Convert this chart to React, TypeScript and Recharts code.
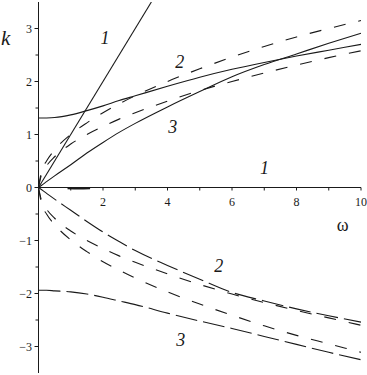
import React from 'react'
import { LineChart, Line, XAxis, YAxis, ReferenceLine, ReferenceDot } from 'recharts'

// frequency grid shared by the branch curves
const omega = [0, 0.1, 0.25, 0.5, 1, 1.5, 2, 2.5, 3, 4, 5, 6, 7, 8, 9, 10]

// upper half
const upSolid2 = [1.31, 1.31, 1.312, 1.32, 1.37, 1.45, 1.54, 1.64, 1.73, 1.91, 2.08, 2.23, 2.36, 2.48, 2.59, 2.7]
const upSolid3 = [0, 0.043, 0.11, 0.22, 0.43, 0.65, 0.85, 1.04, 1.21, 1.52, 1.81, 2.09, 2.32, 2.52, 2.72, 2.91]
const upDashHi = [0, 0.32, 0.5, 0.71, 1.0, 1.22, 1.41, 1.58, 1.73, 2.0, 2.24, 2.46, 2.66, 2.84, 3.0, 3.15]
const upDashLo = [0, 0.26, 0.41, 0.58, 0.82, 1.0, 1.15, 1.29, 1.41, 1.63, 1.83, 2.0, 2.16, 2.31, 2.45, 2.58]

// lower half
const loLong2 = [0, -0.043, -0.11, -0.22, -0.43, -0.64, -0.84, -1.02, -1.19, -1.47, -1.73, -1.98, -2.14, -2.29, -2.42, -2.54]
const loDashHi = [0, -0.26, -0.41, -0.58, -0.82, -1.0, -1.15, -1.29, -1.41, -1.63, -1.83, -2.01, -2.17, -2.32, -2.46, -2.6]
const loDashLo = [0, -0.32, -0.5, -0.7, -0.99, -1.21, -1.4, -1.56, -1.71, -1.97, -2.2, -2.41, -2.61, -2.79, -2.95, -3.11]
const loLong3 = [-1.94, -1.94, -1.94, -1.95, -1.97, -2.01, -2.07, -2.14, -2.21, -2.37, -2.52, -2.66, -2.81, -2.96, -3.11, -3.25]

// branch 1: straight line k = w, plus the short piece lying on the axis
const omega1 = [0, 3.5]
const k1 = [0, 3.5]
const omegaFlat = [0.9, 1.25, 1.6]
const kFlat = [-0.015, -0.02, -0.015]

const xTicks = [0, 1, 2, 3, 4, 5, 6, 7, 8, 9, 10]
const yTicks = [-3, -2.5, -2, -1.5, -1, -0.5, 0, 0.5, 1, 1.5, 2, 2.5, 3]

const curveLabels = [
  { w: 2.06, k: 2.83, text: '1' },
  { w: 4.38, k: 2.38, text: '2' },
  { w: 4.16, k: 1.15, text: '3' },
  { w: 7.01, k: 0.38, text: '1' },
  { w: 5.59, k: -1.47, text: '2' },
  { w: 4.41, k: -2.87, text: '3' },
]

const rows = omega.map((w, i) => ({
  w,
  s2: upSolid2[i],
  s3: upSolid3[i],
  dh: upDashHi[i],
  dl: upDashLo[i],
  l2: loLong2[i],
  ndh: loDashHi[i],
  ndl: loDashLo[i],
  l3: loLong3[i],
}))
const line1 = omega1.map((w, i) => ({ w, k: k1[i] }))
const flat = omegaFlat.map((w, i) => ({ w, k: kFlat[i] }))

const W = 367
const H = 375
const X_AXIS_H = 1
const MARGIN = { top: 2, right: 6, bottom: 1, left: 0 }
const Y_AXIS_W = 38.5
const ZERO_Y = MARGIN.top + (H - MARGIN.top - MARGIN.bottom - X_AXIS_H) / 2
const INK = '#1a1a1a'
const FONT = '"Liberation Serif", "Times New Roman", serif'
const SHORT = '12 13'
const LONG = '22 6'

function XTick({ x, payload }: any) {
  const v = payload.value
  return (
    <g>
      <line x1={x} x2={x} y1={ZERO_Y} y2={ZERO_Y + 3} stroke={INK} />
      {v > 0 && v % 2 === 0 && (
        <text x={x} y={ZERO_Y + 18} textAnchor="middle" fontSize={12} fontFamily={FONT} fill={INK}>
          {v}
        </text>
      )}
    </g>
  )
}

function YTick({ y, payload }: any) {
  const v = payload.value
  const major = Number.isInteger(v)
  return (
    <g>
      <line x1={Y_AXIS_W - (major ? 4 : 3)} x2={Y_AXIS_W} y1={y} y2={y} stroke={INK} />
      {major && (
        <text x={32} y={y} dy={4} textAnchor="end" fontSize={12} fontFamily={FONT} fill={INK}>
          {v < 0 ? '\u2212' + Math.abs(v) : v}
        </text>
      )}
    </g>
  )
}

export default function App() {
  const common = { dot: false, isAnimationActive: false, stroke: INK, strokeWidth: 1.1, type: 'monotone' as const }
  return (
    <div style={{ position: 'absolute', left: 0, top: 0, width: W, height: H, background: '#fff' }}>
      <LineChart width={W} height={H} data={rows} margin={MARGIN}>
        <XAxis
          dataKey="w"
          type="number"
          domain={[0, 10]}
          ticks={xTicks}
          height={X_AXIS_H}
          axisLine={false}
          tickLine={false}
          tick={<XTick />}
          interval={0}
        />
        <YAxis
          type="number"
          domain={[-3.5, 3.5]}
          ticks={yTicks}
          width={Y_AXIS_W}
          allowDataOverflow
          axisLine={{ stroke: INK }}
          tickLine={false}
          tick={<YTick />}
          interval={0}
        />
        <ReferenceLine y={0} stroke={INK} strokeWidth={1.1} />

        <Line {...common} dataKey="s2" />
        <Line {...common} dataKey="s3" />
        <Line {...common} dataKey="dh" strokeDasharray={SHORT} />
        <Line {...common} dataKey="dl" strokeDasharray={SHORT} />
        <Line {...common} dataKey="l2" strokeDasharray={LONG} />
        <Line {...common} dataKey="ndh" strokeDasharray={SHORT} />
        <Line {...common} dataKey="ndl" strokeDasharray={SHORT} />
        <Line {...common} dataKey="l3" strokeDasharray={LONG} />
        <Line {...common} data={line1} dataKey="k" type="linear" />
        <Line {...common} data={flat} dataKey="k" strokeWidth={1.8} />

        {curveLabels.map((c, i) => (
          <ReferenceDot
            key={i}
            x={c.w}
            y={c.k}
            r={0}
            fill="none"
            stroke="none"
            label={{ value: c.text, position: 'center', fontSize: 18, fontStyle: 'italic', fontFamily: FONT, fill: INK }}
          />
        ))}
        <ReferenceDot
          x={9.43}
          y={-0.7}
          r={0}
          fill="none"
          stroke="none"
          label={{ value: '\u03c9', position: 'center', fontSize: 18, fontFamily: FONT, fill: INK }}
        />
      </LineChart>
      <span
        style={{
          position: 'absolute',
          left: 1,
          top: 26,
          fontFamily: FONT,
          fontStyle: 'italic',
          fontSize: 21,
          color: INK,
        }}
      >
        k
      </span>
    </div>
  )
}
